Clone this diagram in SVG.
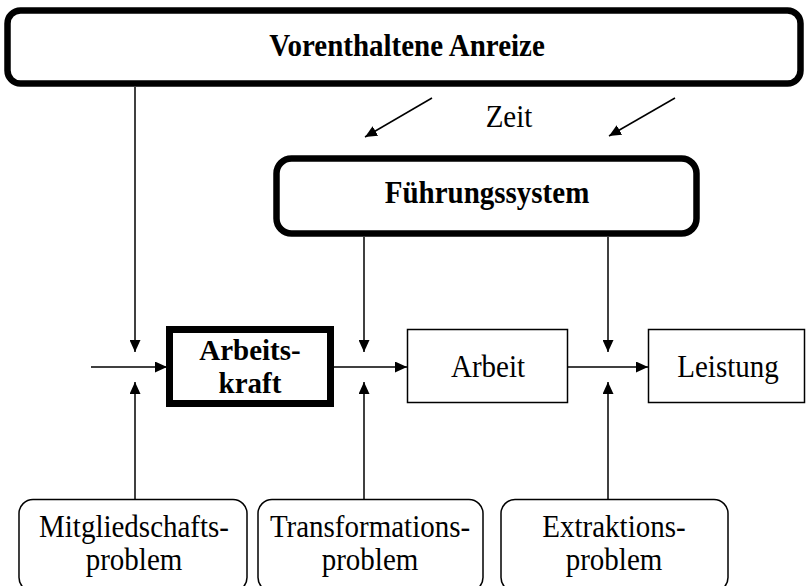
<svg xmlns="http://www.w3.org/2000/svg" width="808" height="586" viewBox="0 0 808 586">
<defs>
<marker id="ah" markerUnits="userSpaceOnUse" markerWidth="12" markerHeight="11" refX="12" refY="5.5" orient="auto">
<path d="M0,0 L12,5.5 L0,11 Z" fill="#000"/>
</marker>
<style>
.thick{fill:#fff;stroke:#000;stroke-width:6.5}
.thin{fill:#fff;stroke:#000;stroke-width:1.5}
.bold{font-family:"Liberation Serif","Times New Roman",serif;font-weight:bold;font-size:29px;text-anchor:middle;fill:#000}
.reg{font-family:"Liberation Serif","Times New Roman",serif;font-size:29px;text-anchor:middle;fill:#000}
.con line{stroke:#000;stroke-width:1.5;marker-end:url(#ah)}
</style>
</defs>
<rect width="808" height="586" fill="#fff"/>

<g id="connectors" class="con">
<line x1="91" y1="367" x2="167" y2="367"/>
<line x1="334" y1="367" x2="407" y2="367"/>
<line x1="568" y1="367" x2="648" y2="367"/>
<line x1="135" y1="87" x2="135" y2="352"/>
<line x1="364" y1="237" x2="364" y2="352"/>
<line x1="608" y1="237" x2="608" y2="352"/>
<line x1="135" y1="499" x2="135" y2="382"/>
<line x1="364" y1="499" x2="364" y2="382"/>
<line x1="608" y1="499" x2="608" y2="382"/>
<line x1="432" y1="98" x2="365" y2="137"/>
<line x1="675" y1="98" x2="609" y2="136"/>
</g>

<g id="vorenthaltene-anreize">
<rect class="thick" x="7.5" y="10.5" width="793" height="73" rx="13"/>
<text class="bold" transform="translate(407,56) scale(1,1.1)">Vorenthaltene Anreize</text>
</g>

<g id="zeit">
<text class="reg" transform="translate(509,127) scale(1,1.1)">Zeit</text>
</g>

<g id="fuehrungssystem">
<rect class="thick" x="276.5" y="158.5" width="420" height="75" rx="15"/>
<text class="bold" transform="translate(487,203) scale(1,1.1)">Führungssystem</text>
</g>

<g id="arbeitskraft">
<rect x="169.5" y="329.5" width="161" height="74" fill="#fff" stroke="#000" stroke-width="7"/>
<text class="bold" x="250" y="360" font-size="28">Arbeits-</text>
<text class="bold" x="250" y="393" font-size="28">kraft</text>
</g>

<g id="arbeit">
<rect class="thin" x="407.5" y="329.5" width="160" height="73"/>
<text class="reg" transform="translate(488,377) scale(1,1.1)">Arbeit</text>
</g>

<g id="leistung">
<rect class="thin" x="648.5" y="329.5" width="156" height="73"/>
<text class="reg" transform="translate(728,377) scale(1,1.1)">Leistung</text>
</g>

<g id="mitgliedschaftsproblem">
<rect class="thin" x="19" y="499.5" width="228" height="92" rx="14"/>
<text class="reg" transform="translate(134,537) scale(1,1.1)">Mitgliedschafts-</text>
<text class="reg" transform="translate(134,570) scale(1,1.1)">problem</text>
</g>

<g id="transformationsproblem">
<rect class="thin" x="258" y="499.5" width="225" height="92" rx="14"/>
<text class="reg" transform="translate(370,537) scale(1,1.1)">Transformations-</text>
<text class="reg" transform="translate(370,570) scale(1,1.1)">problem</text>
</g>

<g id="extraktionsproblem">
<rect class="thin" x="501" y="499.5" width="227" height="92" rx="14"/>
<text class="reg" transform="translate(614,537) scale(1,1.1)">Extraktions-</text>
<text class="reg" transform="translate(614,570) scale(1,1.1)">problem</text>
</g>
</svg>
